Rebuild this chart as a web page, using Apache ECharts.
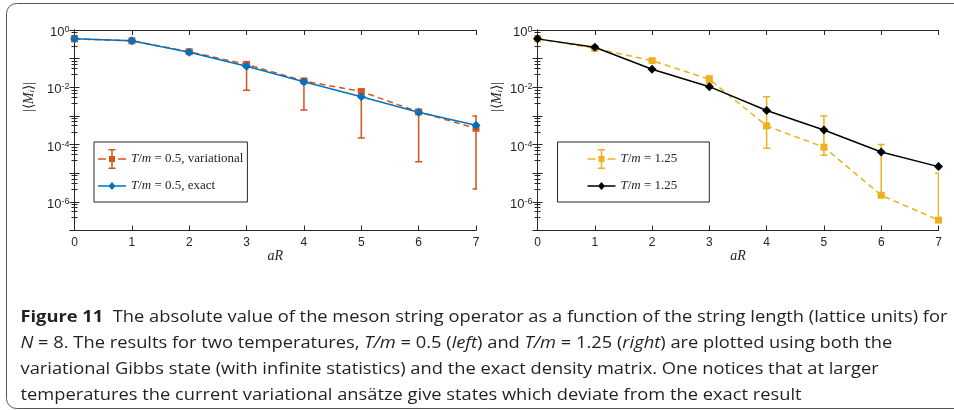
<!DOCTYPE html>
<html>
<head>
<meta charset="utf-8">
<script src="https://cdn.jsdelivr.net/npm/echarts@6/dist/echarts.min.js"></script>
<style>
  html, body { margin: 0; padding: 0; background: #fff; }
  #chart-panel { width: 954px; height: 410px; }
</style>
</head>
<body>
<div id="chart-panel"></div>
<script>
// string length
var aR = [0, 1, 2, 3, 4, 5, 6, 7];
// labelled decades on the y axes
var yTickExp = [0, -2, -4, -6];

// T/m = 0.5 (left)
var varLeft = [0.49, 0.42, 0.174, 0.063, 0.0166, 0.0071, 0.00138, 0.00037];
var varLeftLow = [0.47, 0.40, 0.16, 0.0079, 0.00162, 0.00017, 0.000025, 0.0000028];
var varLeftHigh = [0.51, 0.44, 0.185, 0.069, 0.0182, 0.0081, 0.00158, 0.001];
var exactLeft = [0.49, 0.42, 0.166, 0.054, 0.0155, 0.0047, 0.00135, 0.00047];

// T/m = 1.25 (right)
var varRight = [0.49, 0.229, 0.085, 0.019, 0.00045, 0.000081, 0.0000017, 0.00000023];
var varRightLow = [0.47, 0.215, 0.08, 0.0138, 0.000074, 0.000042, 0.0000017, 0.0000002];
var varRightHigh = [0.51, 0.245, 0.09, 0.025, 0.0047, 0.001, 0.0001, 0.00001];
var exactRight = [0.49, 0.25, 0.0427, 0.0105, 0.00155, 0.000324, 0.000055, 0.000017];

var legendText = {
    var05: '{i|T}/{i|m} = 0.5, variational',
    exact05: '{i|T}/{i|m} = 0.5, exact',
    var125: '{i|T}/{i|m} = 1.25',
    exact125: '{i|T}/{i|m} = 1.25'
};

var captionLines = [
    '{b|Figure 11}  The absolute value of the meson string operator as a function of the string length (lattice units) for',
    '{it|N} = 8. The results for two temperatures, {it|T/m} = 0.5 ({it|left}) and {it|T/m} = 1.25 ({it|right}) are plotted using both the',
    'variational Gibbs state (with infinite statistics) and the exact density matrix. One notices that at larger',
    'temperatures the current variational ans\u00e4tze give states which deviate from the exact result'
];

var ORANGE = '#D95319', BLUE = '#0072BD', YELLOW = '#EDB120', BLACK = '#000000';
var AXIS = '#262626';

function pairs(ys) {
    return aR.map(function (x, i) { return [x, ys[i]]; });
}
function triples(lo, hi) {
    return aR.map(function (x, i) { return [x, lo[i], hi[i]]; });
}

function renderErrorBar(params, api) {
    var x = api.value(0);
    var lo = api.coord([x, api.value(1)]);
    var hi = api.coord([x, api.value(2)]);
    var w = 3.5;
    var st = { stroke: api.visual('color'), lineWidth: 1.5, fill: null };
    return {
        type: 'group',
        children: [
            { type: 'line', shape: { x1: lo[0], y1: lo[1], x2: hi[0], y2: hi[1] }, style: st },
            { type: 'line', shape: { x1: lo[0] - w, y1: lo[1], x2: lo[0] + w, y2: lo[1] }, style: st },
            { type: 'line', shape: { x1: hi[0] - w, y1: hi[1], x2: hi[0] + w, y2: hi[1] }, style: st }
        ]
    };
}

function xAxes(grid) {
    return [{
        gridIndex: grid, type: 'value', min: 0, max: 7, interval: 1, position: 'bottom',
        name: 'aR', nameLocation: 'middle', nameGap: 18,
        nameTextStyle: { fontFamily: 'Liberation Serif', fontStyle: 'italic', fontSize: 14, color: AXIS },
        axisLine: { lineStyle: { color: AXIS, width: 1 } },
        axisTick: { inside: true, length: 5, lineStyle: { color: AXIS } },
        axisLabel: { margin: 6, fontFamily: 'Liberation Sans', fontSize: 12, color: AXIS },
        splitLine: { show: false }
    }, {
        gridIndex: grid, type: 'value', min: 0, max: 7, interval: 1, position: 'top',
        axisLine: { lineStyle: { color: AXIS, width: 1 } },
        axisTick: { inside: true, length: 5, lineStyle: { color: AXIS } },
        axisLabel: { show: false },
        splitLine: { show: false }
    }];
}

function yAxes(grid) {
    var common = {
        gridIndex: grid, type: 'log', logBase: 10, min: 1e-7, max: 1, splitNumber: 7,
        axisLine: { show: true, lineStyle: { color: AXIS, width: 1 } },
        axisTick: { inside: true, length: 5, lineStyle: { color: AXIS } },
        minorTick: { show: true, splitNumber: 5, length: 3, lineStyle: { color: AXIS } },
        splitLine: { show: false }
    };
    var left = Object.assign({}, common, {
        position: 'left',
        axisLabel: {
            margin: 5, showMinLabel: false, color: AXIS,
            formatter: function (v) {
                var e = Math.round(Math.log10(v));
                if (yTickExp.indexOf(e) < 0) return '';
                return '{b|10}{s|' + e + '}';
            },
            rich: {
                b: { fontFamily: 'Liberation Sans', fontSize: 13, color: AXIS, lineHeight: 18, padding: [5, 0, 0, 0] },
                s: { fontFamily: 'Liberation Sans', fontSize: 9, color: AXIS, lineHeight: 10, verticalAlign: 'top', padding: [4, 0, 0, 0] }
            }
        }
    });
    var right = Object.assign({}, common, { position: 'right', axisLabel: { show: false } });
    return [left, right];
}

// legend glyphs (28 x 20 box)
var ICON_ERR = 'path://M0,9.25h8v1.5h-8z M20,9.25h8v1.5h-8z M13.25,0h1.5v20h-1.5z ' +
    'M10.5,0h7v1.5h-7z M10.5,18.5h7v1.5h-7z M11,7h6v6h-6z';
var ICON_DIAMOND = 'path://M0,9.25h28v1.5h-28z M14,6L17.5,10L14,14L10.5,10Z ' +
    'M14,0h0.01v0.01h-0.01z M14,19.99h0.01v0.01h-0.01z';

function legendFor(names, left, pad) {
    return {
        data: names.map(function (n) {
            return { name: n, icon: n.indexOf('var') === 0 ? ICON_ERR : ICON_DIAMOND };
        }),
        orient: 'vertical', left: left, top: 142,
        itemWidth: 28, itemHeight: 20, itemGap: 7, padding: pad,
        borderColor: AXIS, borderWidth: 1, backgroundColor: '#fff',
        itemStyle: { borderWidth: 0 },
        formatter: function (n) { return legendText[n]; },
        textStyle: {
            fontFamily: 'Liberation Serif', fontSize: 13, color: AXIS,
            rich: { i: { fontFamily: 'Liberation Serif', fontStyle: 'italic', fontSize: 13, color: AXIS } }
        }
    };
}

function lineSeries(name, xi, yi, ys, color, dashed, symbol, size) {
    return {
        name: name, type: 'line', xAxisIndex: xi, yAxisIndex: yi, data: pairs(ys),
        symbol: symbol, symbolSize: size, showSymbol: true,
        itemStyle: { color: color },
        lineStyle: { color: color, width: 1.5, type: dashed ? [6, 4] : 'solid' },
        z: dashed ? 2 : 4
    };
}

function errorSeries(name, xi, yi, lo, hi, color) {
    return {
        name: name, type: 'custom', xAxisIndex: xi, yAxisIndex: yi, clip: true,
        data: triples(lo, hi), encode: { x: 0, y: [1, 2] },
        itemStyle: { color: color }, renderItem: renderErrorBar, z: 3
    };
}

// caption text, squeezed horizontally to mimic the condensed journal font
var capFont = 'Open Sans';
var capSize = 16;
var cv = document.createElement('canvas').getContext('2d');
cv.font = 'bold ' + capSize + 'px "' + capFont + '"';
var wBold = cv.measureText('Figure 11').width;
cv.font = capSize + 'px "' + capFont + '"';
var wRest = cv.measureText('  The absolute value of the meson string operator as a function of the string length (lattice units) for').width;
var capScale = 927 / (wBold + wRest);
var capY = [317, 343.5, 369.5, 395.5];

var graphics = [{
    type: 'rect', shape: { x: 6.5, y: 3.5, width: 990, height: 405, r: 10 },
    style: { fill: null, stroke: '#555', lineWidth: 1 }, silent: true
}];
captionLines.forEach(function (t, i) {
    graphics.push({
        type: 'text', x: 20.5, y: capY[i], scaleX: capScale, scaleY: 1,
        style: {
            text: t, x: 0, y: 0, verticalAlign: 'middle', align: 'left',
            fontFamily: capFont, fontSize: capSize, fill: '#231f20',
            rich: {
                b: { fontFamily: capFont, fontSize: capSize, fontWeight: 'bold', fill: '#231f20', color: '#231f20' },
                it: { fontFamily: capFont, fontSize: capSize, fontStyle: 'italic', fill: '#231f20', color: '#231f20' }
            }
        }
    });
});
[29, 497].forEach(function (x) {
    graphics.push({
        type: 'text', x: x, y: 97, rotation: Math.PI / 2,
        style: {
            text: '|\u27e8{it|M}{sub|i}\u27e9|', x: 0, y: 0, align: 'center', verticalAlign: 'middle',
            fontFamily: 'Liberation Serif', fontSize: 14, fill: AXIS,
            rich: {
                it: { fontFamily: 'Liberation Serif', fontStyle: 'italic', fontSize: 14, fill: AXIS, color: AXIS, lineHeight: 14 },
                sub: { fontFamily: 'Liberation Serif', fontStyle: 'italic', fontSize: 9, fill: AXIS, color: AXIS, verticalAlign: 'bottom' }
            }
        }
    });
});

chartOption = {
    backgroundColor: '#fff',
    animation: false,
    grid: [{
        left: 74.5, right: 478, top: 30, bottom: 179.5, show: true,
        backgroundColor: '#fff', borderColor: 'transparent'
    }, {
        left: 537.5, right: 15.5, top: 30, bottom: 179.5, show: true,
        backgroundColor: '#fff', borderColor: 'transparent'
    }],
    xAxis: xAxes(0).concat(xAxes(1)),
    yAxis: yAxes(0).concat(yAxes(1)),
    legend: [
        legendFor(['var05', 'exact05'], 94, [7, 4, 6, 4]),
        legendFor(['var125', 'exact125'], 557.5, [7, 32, 6, 30])
    ],
    series: [
        errorSeries('var05', 0, 0, varLeftLow, varLeftHigh, ORANGE),
        lineSeries('var05', 0, 0, varLeft, ORANGE, true, 'rect', 7),
        lineSeries('exact05', 0, 0, exactLeft, BLUE, false, 'diamond', 9),
        errorSeries('var125', 2, 2, varRightLow, varRightHigh, YELLOW),
        lineSeries('var125', 2, 2, varRight, YELLOW, true, 'rect', 7),
        lineSeries('exact125', 2, 2, exactRight, BLACK, false, 'diamond', 9)
    ],
    graphic: graphics
};

var myChart = echarts.init(document.getElementById('chart-panel'));
myChart.setOption(chartOption);
</script>
</body>
</html>
